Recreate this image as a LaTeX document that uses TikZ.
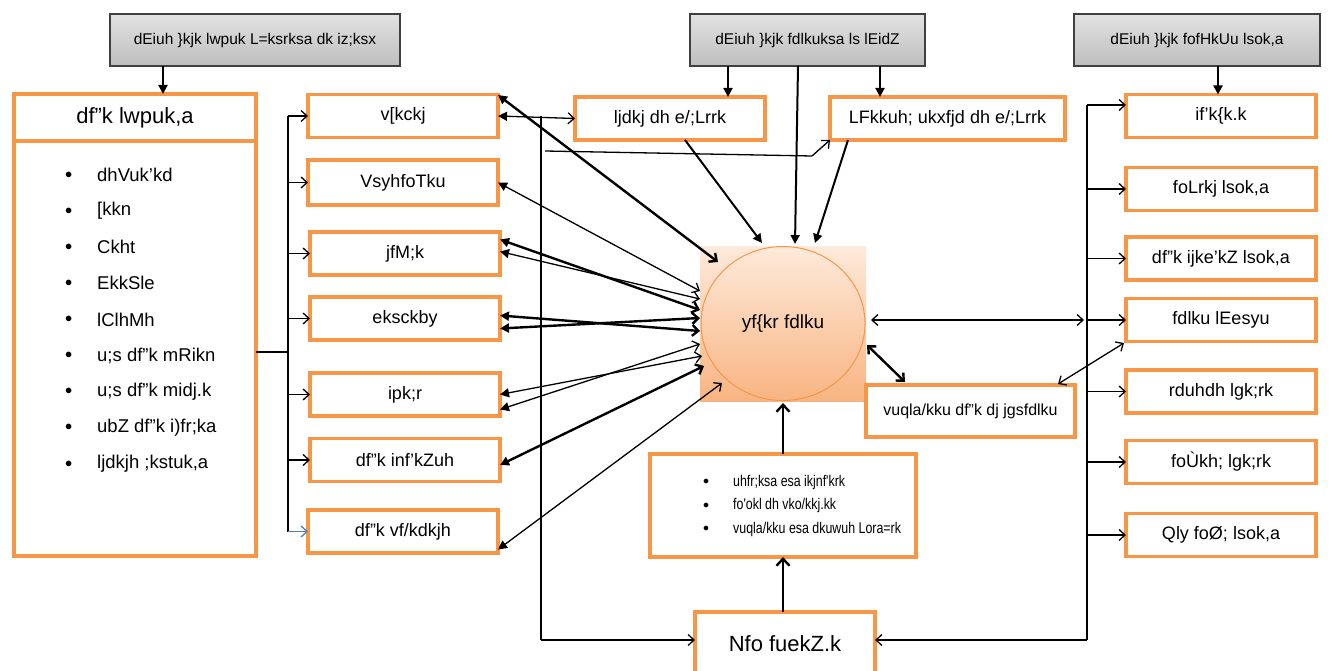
\documentclass[tikz,border=0pt]{standalone}
\usepackage{fontspec}
\setmainfont{Liberation Sans}
\newfontfamily\narrowf{Liberation Sans}[FakeStretch=0.8]
\usetikzlibrary{arrows.meta,shapes.geometric}
\definecolor{orn}{HTML}{F79646}
\definecolor{peachT}{HTML}{FDEADA}
\definecolor{peachB}{HTML}{F8B482}
\definecolor{gT}{HTML}{E2E2E2}
\definecolor{gB}{HTML}{BEBEBE}
\definecolor{blu}{HTML}{4F81BD}
\tikzset{
  obox/.style={draw=orn, line width=3.4pt, fill=white, inner sep=0pt, outer sep=0pt, minimum height=43pt, font=\fontsize{18}{21}\selectfont},
  gbox/.style={draw=black!75, line width=1.2pt, top color=gT, bottom color=gB, inner sep=0pt, outer sep=0pt, minimum height=52pt, font=\fontsize{15.5}{18}\selectfont},
  ln/.style={line width=1.3pt},
  tk/.style={line width=2.4pt},
  arr/.style={-{Triangle[length=9pt,width=9pt]}, line width=2pt},
  barb/.style={-{Straight Barb[length=6pt,width=11pt]}},
  both/.style={{Triangle[length=9pt,width=9pt]}-{Straight Barb[length=6pt,width=11pt]}},
  bb2/.style={{Straight Barb[length=6pt,width=11pt]}-{Straight Barb[length=6pt,width=11pt]}},
  bull/.style={anchor=west, inner sep=0pt},
}
\begin{document}
\begin{tikzpicture}[x=1pt,y=-1pt]
\clip (0,0) rectangle (1341,671);
\fill[white] (0,0) rectangle (1341,671);
% gray top boxes
\node[gbox, minimum width=290pt] (g1) at (255,40) {dEiuh \}kjk lwpuk L=ksrksa dk iz;ksx};
\node[gbox, minimum width=235pt] (g2) at (807.5,40) {dEiuh \}kjk fdlkuksa ls lEidZ};
\node[gbox, minimum width=246pt] (g3) at (1197,40) {dEiuh \}kjk fofHkUu lsok,a};
% left big box
\node[obox, minimum width=242pt, minimum height=47pt, font=\fontsize{22}{25}\selectfont] (hdr) at (135,117.5) {df"k lwpuk,a};
\node[obox, minimum width=242pt, minimum height=415pt] (body) at (135,348.5) {};
\foreach \t [count=\i] in {dhVuk'kd,[kkn,Ckht,EkkSle,lClhMh,u;s df"k mRikn,u;s df"k midj.k,ubZ df"k i)fr;ka,{ljdkjh ;kstuk,a}}{
  \node[bull, font=\fontsize{18.5}{21}\selectfont] (li\i) at (97,{175+36.1*(\i-1)}) {\t};
  \node[bull, font=\fontsize{14}{16}\selectfont] (lb\i) at (65,{175+36.1*(\i-1)}) {$\bullet$};
}
% middle-left boxes
\node[obox, minimum width=190pt] (m1) at (403,116) {v[kckj};
\node[obox, minimum width=190pt, minimum height=45pt] (m2) at (403,182.5) {VsyhfoTku};
\node[obox, minimum width=190pt] (m3) at (405,253.5) {jfM;k};
\node[obox, minimum width=190pt] (m4) at (405,318.5) {eksckby};
\node[obox, minimum width=190pt] (m5) at (405,394.5) {ipk;r};
\node[obox, minimum width=190pt] (m6) at (405,460) {df"k inf'kZuh};
\node[obox, minimum width=190pt] (m7) at (403,531.5) {df"k vf/kdkjh};
% top middle boxes
\node[obox, minimum width=190pt] (t1) at (670,118.5) {ljdkj dh e/;Lrrk};
\node[obox, minimum width=235pt] (t2) at (947.5,118.5) {LFkkuh; ukxfjd dh e/;Lrrk};
% centre
\shade[top color=peachT, bottom color=peachB] (700,246) rectangle (866,401);
\node[draw=orn, line width=1pt, ellipse, minimum width=164pt, minimum height=154pt, inner sep=0pt, font=\fontsize{19}{22}\selectfont] (c) at (783,323.5) {yf\{kr fdlku};
% right-middle box
\node[obox, minimum width=209pt, minimum height=52pt, font=\fontsize{16}{19}\selectfont] (a) at (970.5,411) {vuqla/kku df"k dj jgsfdlku};
% bottom boxes
\node[obox, minimum width=266pt, minimum height=103pt] (bb) at (783,505.5) {};
\foreach \t [count=\i] in {uhfr;ksa esa ikjnf'krk,fo'okl dh vko/kkj.kk,vuqla/kku esa dkuwuh Lora=rk}{
  \node[bull, font=\narrowf\fontsize{15.5}{18}\selectfont] (bt\i) at (733,{482+23.5*(\i-1)}) {\t};
  \node[bull, font=\fontsize{12}{14}\selectfont] (bd\i) at (703,{482+23.5*(\i-1)}) {$\bullet$};
}
\node[obox, minimum width=180pt, minimum height=64pt, font=\fontsize{22}{25}\selectfont] (nfo) at (785,644) {Nfo fuekZ.k};
% right boxes
\node[obox, minimum width=190pt] (r1) at (1221,116) {if'k\{k.k};
\node[obox, minimum width=190pt] (r2) at (1221,189) {foLrkj lsok,a};
\node[obox, minimum width=190pt] (r3) at (1221,258.5) {df"k ijke'kZ lsok,a};
\node[obox, minimum width=190pt] (r4) at (1221,320) {fdlku lEesyu};
\node[obox, minimum width=190pt] (r5) at (1221,391.5) {rduhdh lgk;rk};
\node[obox, minimum width=190pt] (r6) at (1221,462) {foÙkh; lgk;rk};
\node[obox, minimum width=190pt] (r7) at (1221,535) {Qly foØ; lsok,a};

% ---------- connectors ----------
\coordinate (g1s) at (163,66);
\draw[arr] (g1s) -- (g1s |- hdr.north);
\coordinate (g2a) at (728,66); \coordinate (g2b) at (880,66); \coordinate (g2c) at (798,66);
\draw[arr] (g2a) -- (g2a |- t1.north);
\draw[arr] (g2b) -- (g2b |- t2.north);
\draw[arr] (g2c) -- (795,244);
\coordinate (g3s) at (1218,66);
\draw[arr] (g3s) -- (g3s |- r1.north);
\draw[arr] (685,140) -- (762,243);
\draw[arr] (848,140) -- (815,243);
% left bus
\coordinate (lb0) at (288,352);
\draw[ln] (body.east |- lb0) -- (lb0);
\draw[ln] (288,116) -- (288,531.5);
\foreach \n in {m1,m2,m3,m4,m5,m6}{\draw[ln,barb] (288,0 |- \n.west) -- (\n.west);}
\draw[ln,barb,blu] (288,531.5) -- (m7.west);
% middle connector column
\coordinate (v1) at (541,116); \coordinate (v2) at (541,640);
\draw[ln,both] (m1.east) -- (t1.west);
\draw[ln] (v1) -- (v2);
\draw[ln,barb] (v2) -- (nfo.west |- v2);
\draw[ln] (545,151) -- (812,156);
\draw[ln,barb] (812,156) -- (t2.south west);
% boxes to centre
\draw[tk,both] ([yshift=21pt]m1.east) -- (718,262);
\draw[ln,both] (m2.east) -- (700,291);
\draw[ln,both] ([yshift=2pt]m3.east) -- (700,299);
\draw[tk,both] ([yshift=14pt]m3.east) -- (700,310);
\draw[tk,both] ([yshift=-10pt]m4.east) -- (700,318);
\draw[tk,both] ([yshift=3pt]m4.east) -- (700,331);
\draw[ln,both] ([yshift=-15pt]m5.east) -- (700,344);
\draw[ln,both] ([yshift=0pt]m5.east) -- (702,356);
\draw[tk,both] ([yshift=-5pt]m6.east) -- (704,366);
\draw[ln,both] ([yshift=-18pt]m7.east) -- (722,383);
% bottom
\draw[tk,-{Straight Barb[length=7pt,width=13pt]}] (bb.north -| c.south) -- ([yshift=-2pt]c.south);
\draw[tk,-{Straight Barb[length=7pt,width=13pt]}] (nfo.north -| c.south) -- (bb.south -| c.south);
% right bus
\coordinate (rb0) at (1087,105); \coordinate (rb1) at (1087,640);
\draw[ln] (rb0) -- (rb1);
\draw[ln,barb] (rb0) -- (rb0 -| r1.west);
\foreach \n in {r2,r3,r4,r5,r6,r7}{\draw[ln,barb] (1087,0 |- \n.west) -- (\n.west);}
\draw[ln,barb] (rb1) -- (nfo.east |- rb1);
\draw[ln,bb2] (871,320) -- (1084,320);
\draw[ln,bb2] (1124,343) -- (1058,384);
\draw[tk,bb2] (867,345) -- (905,382);
\end{tikzpicture}
\end{document}
